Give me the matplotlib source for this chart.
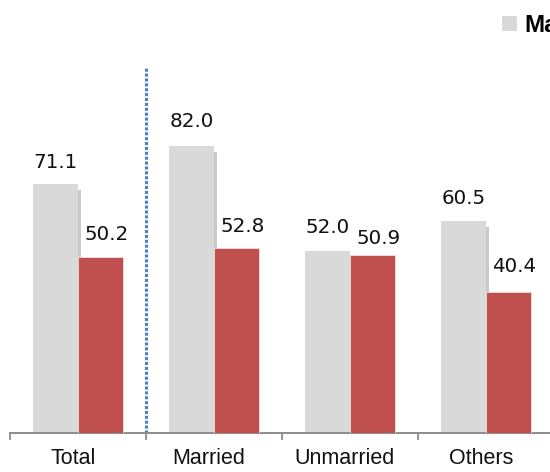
import numpy as np
import matplotlib.pyplot as plt
from matplotlib import patheffects
from matplotlib.patches import Patch
from matplotlib.transforms import ScaledTranslation

# --- Data ---
categories = ["Total", "Married", "Unmarried", "Others"]
male = [71.1, 82.0, 52.0, 60.5]
female = [50.2, 52.8, 50.9, 40.4]
series_names = ["Male", "Female"]

# --- Style ---
GRAY = "#D9D9D9"
RED = "#C0504D"
SEP_BLUE = "#4A7FC6"
SANS = ["Liberation Sans", "DejaVu Sans"]
BAR_W = 0.33
SEP_TOP = 104.6          # height of the dotted separator after "Total"
# label lift above bar top, in points
lift_male = [9.0, 10.5, 9.8, 9.8]
lift_female = [9.8, 9.0, 5.0, 11.5]

fig = plt.figure(figsize=(5.5, 4.72), dpi=100)
W, H = 550, 472
ax = fig.add_axes([10 / W, 39 / H, 680 / W, 433 / H])

x = np.arange(len(categories))
shadow = [patheffects.SimplePatchShadow(offset=(2.2, -4), shadow_rgbFace="#8a8a8a", alpha=0.45),
          patheffects.Normal()]
bars_m = ax.bar(x - BAR_W / 2, male, BAR_W, color=GRAY, zorder=2)
for b in bars_m:
    b.set_path_effects(shadow)
bars_f = ax.bar(x + BAR_W / 2, female, BAR_W, color=RED, edgecolor="#f3dede",
                linewidth=0.6, zorder=3)

for xi, v, lf in zip(x - BAR_W / 2, male, lift_male):
    ax.annotate(f"{v:.1f}", (xi, v), xytext=(0, lf), textcoords="offset points",
                ha="center", va="bottom", fontsize=14.3, color="#111111")
for xi, v, lf in zip(x + BAR_W / 2, female, lift_female):
    ax.annotate(f"{v:.1f}", (xi, v), xytext=(4.3, lf), textcoords="offset points",
                ha="center", va="bottom", fontsize=14.3, color="#111111")

# dotted separator between the total and the breakdown
ax.vlines(0.5, 0, SEP_TOP, colors=SEP_BLUE, linestyles=(0, (1, 0.6)), linewidth=2.2, zorder=1)

ax.set_xlim(-0.5, 4.5)
ax.set_ylim(0, 433 / 3.5)
for s in ["top", "right", "left"]:
    ax.spines[s].set_visible(False)
ax.spines["bottom"].set_color("#8c8c8c")
ax.spines["bottom"].set_linewidth(1.4)
ax.set_yticks([])

ax.set_xticks(np.arange(-0.5, 5, 1.0), minor=True)
ax.tick_params(axis="x", which="minor", length=5, width=1.3, color="#8c8c8c", direction="out")
ax.set_xticks(x)
ax.set_xticklabels(categories, fontsize=15.5, family=SANS, color="#111111")
ax.tick_params(axis="x", which="major", length=0, pad=11)
shift = ScaledTranslation(-5 / 100, 0, fig.dpi_scale_trans)
for lab in ax.get_xticklabels():
    lab.set_transform(lab.get_transform() + shift)

# legend swatches without the bar shadow
handles = [Patch(facecolor=GRAY), Patch(facecolor=RED)]
ax.legend(handles, series_names, loc="upper left", ncol=2, frameon=False,
          bbox_to_anchor=(502 / W, 1 - 14 / H), bbox_transform=fig.transFigure,
          prop={"family": SANS, "weight": "bold", "size": 17.5},
          handlelength=0.62, handleheight=0.62, handletextpad=0.3,
          borderpad=0, borderaxespad=0, columnspacing=1.0)

fig.savefig("out.png", dpi=100)
